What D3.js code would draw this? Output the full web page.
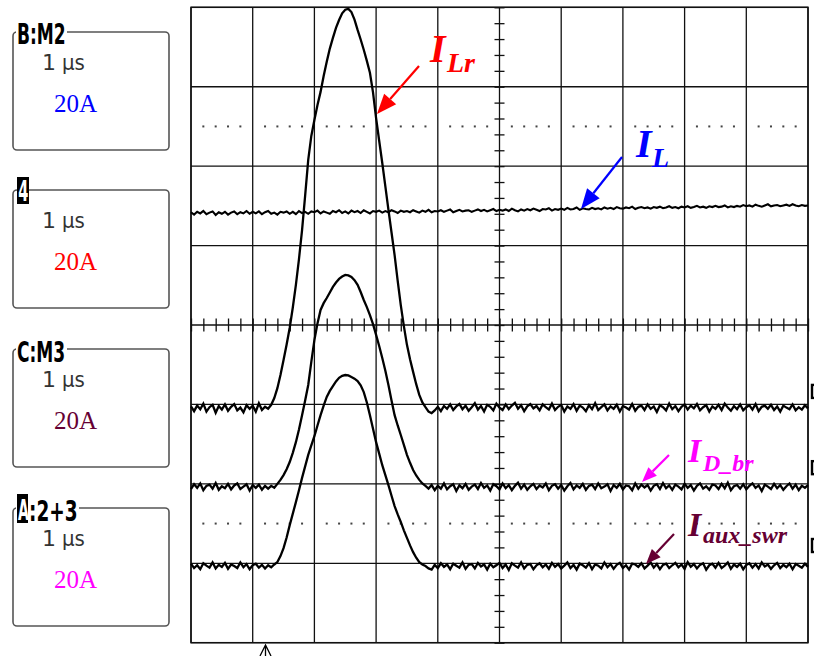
<!DOCTYPE html>
<html>
<head>
<meta charset="utf-8">
<script src="https://cdn.jsdelivr.net/npm/d3@7"></script>
<style>
  html, body { margin: 0; padding: 0; background: #ffffff; }
  svg { display: block; }
</style>
</head>
<body>
<svg id="scope" width="814" height="656"></svg>
<script>
// ---- acquisition settings ----
const sampleStepUs = 0.05;          // time between samples (µs)
const timeDivisions = 10;           // horizontal divisions, 1 µs/div
const voltDivisions = 8;            // vertical divisions
const ampsPerDiv = 20;              // every channel at 20 A/div

// ---- channel read-outs (left column) ----
const panelTitles = ["B:M2", "4", "C:M3", "A:2+3"];
const panelTimebase = ["1 µs", "1 µs", "1 µs", "1 µs"];
const panelScales = ["20A", "20A", "20A", "20A"];
const panelColors = ["#0000ff", "#ff0000", "#660033", "#ff00ff"];

// ---- trace names ----
const traceNames = ["I", "I", "I", "I"];
const traceSubs = ["L", "Lr", "D_br", "aux_swr"];
const traceColors = ["#0000ff", "#ff0000", "#ff00ff", "#660033"];

// trace baseline positions, in divisions from the screen centre
const traceOffsetsDiv = [1.41, -1.045, -2.04, -3.035];
// channel ground markers on the right edge, in divisions
const groundMarkersDiv = [-0.83, -1.79, -2.77];

// ---- sampled currents (A), one value every 0.05 µs from 0 to 10 µs ----
const iL = [
  0.2,-0.4,0.3,-0.1,0.5,-0.3,0.1,0.4,-0.5,0.2,
  -0.2,0.3,-0.4,0.1,0.4,-0.3,0.2,-0.1,0.5,-0.2,
  0.3,-0.1,0.4,-0.3,0.2,0.5,-0.2,0.1,-0.4,0.3,
  0.1,0.4,-0.2,0.3,-0.3,0.5,0.0,0.3,-0.2,0.4,
  0.2,0.6,-0.1,0.4,0.1,-0.2,0.5,0.2,0.7,0.0,
  0.4,-0.1,0.6,0.2,0.5,0.0,0.7,0.3,-0.1,0.5,
  0.3,0.6,0.1,0.5,0.2,0.7,0.4,0.0,0.6,0.3,
  0.5,0.2,0.7,0.4,0.1,0.6,0.3,0.8,0.2,0.5,
  0.4,0.7,0.3,0.6,0.9,0.2,0.5,0.8,0.4,0.6,
  0.7,0.3,0.6,0.9,0.5,0.8,0.4,0.7,1.0,0.5,
  0.8,0.6,0.9,0.5,1.1,0.7,0.4,0.9,0.6,1.0,
  0.7,1.1,0.8,0.5,1.0,0.9,1.2,0.6,1.0,0.8,
  1.1,0.8,1.3,0.9,1.0,1.4,0.8,1.2,1.0,0.9,
  1.3,1.0,1.2,0.9,1.4,1.1,1.3,1.0,1.5,1.2,
  1.1,1.4,1.2,1.6,1.0,1.3,1.5,1.2,1.4,1.1,
  1.5,1.3,1.6,1.2,1.4,1.7,1.3,1.5,1.2,1.6,
  1.4,1.7,1.3,1.5,1.8,1.4,1.6,1.3,1.7,1.5,
  1.8,1.5,1.6,1.9,1.4,1.7,1.5,1.8,1.6,2.0,
  1.7,1.9,1.6,2.1,1.8,1.6,1.9,2.2,1.7,1.9,
  2.0,1.7,1.9,2.1,1.8,2.2,1.9,1.7,2.0,1.8,
  1.9
];

const iLr = [
  0.4,-0.8,0.6,-0.3,1.1,-0.9,0.2,0.8,-1.2,0.5,
  -0.4,0.9,-0.7,0.3,1.0,-0.6,0.1,-1.1,0.7,-0.2,
  0.6,-0.9,1.2,-0.5,0.3,-0.2,
  0.8,2.5,5,8.3,12.1,16,20.2,25.3,31,37.5,
  44.8,53.5,62.5,68.5,72.5,76.3,79.6,83.6,87.2,90.5,
  93.2,95.7,97.7,99.4,100.3,100.5,99.7,97.8,95.2,92.8,
  90.2,87.4,84.4,79.5,73,67.3,61.7,55.8,49.9,44.2,
  38.5,32,25.9,20.6,15.9,12.3,9.1,6,3.3,1.4,
  0.2,
  -0.9,-1.3,-0.6,0.3,-0.8,0.5,-0.2,0.9,-0.5,0.4,
  1.0,-0.3,0.6,-0.7,0.2,1.2,-0.4,0.5,-0.9,0.8,
  0.3,-0.6,1.1,0.1,-0.5,0.9,-0.3,0.6,1.3,-0.2,
  0.7,-0.8,0.4,1.0,-0.1,0.5,-0.6,0.9,0.2,-0.4,
  1.1,-0.5,0.3,0.8,-0.9,0.4,-0.2,1.0,-0.7,0.6,
  0.1,-0.8,0.7,-0.3,1.2,-0.5,0.2,0.9,-0.6,0.4,
  -0.2,0.8,-0.9,0.5,0.1,-0.4,1.0,-0.7,0.3,0.6,
  -0.5,0.9,-0.2,0.4,-1.0,0.7,0.2,-0.6,1.1,-0.3,
  0.5,-0.8,0.3,0.9,-0.4,0.6,-0.1,1.0,-0.6,0.2,
  0.7,-0.9,0.4,-0.2,0.8,-0.5,1.1,0.1,-0.7,0.5,
  -0.3,0.9,-0.6,0.2,0.7,-0.4,1.0,-0.8,0.3,0.6,
  -0.2,0.8,-0.5,0.4,-0.9,0.6,0.1,-0.3,0.9,-0.6,
  0.2,-0.4,0.7,-0.1
];

const iDbr = [
  -0.5,0.7,-0.2,0.9,-0.8,0.3,0.6,-0.4,1.0,-0.7,
  0.2,-0.3,0.8,-0.6,0.4,0.9,-0.5,0.1,0.7,-0.9,
  0.5,-0.2,0.6,-0.7,0.3,-0.4,
  0.3,-0.2,0.8,1.8,3.0,4.5,6.3,8.6,11.3,14.5,
  18.1,21.8,25.7,31.5,37,41.2,44.6,46.3,47.6,49,
  50.4,51.5,52.4,53,53.4,53.3,52.9,52.1,50.9,49.1,
  47.1,45.3,43.3,41,38.3,35.5,32.5,29.3,25.7,21.8,
  18.1,15.5,13.1,10.6,8.1,6.1,4.3,2.9,1.8,0.9,
  0.3,-0.4,
  0.5,-0.8,0.3,-0.4,0.9,-0.6,0.2,0.7,-1.0,0.4,
  -0.3,0.8,-0.7,0.1,0.6,-0.5,1.0,-0.2,0.4,-0.9,
  0.7,0.2,-0.6,0.9,-0.3,0.5,-0.8,0.3,1.1,-0.4,
  0.6,-0.7,0.2,0.8,-0.5,0.4,-0.1,0.9,-0.8,0.3,
  0.7,-0.4,0.5,-0.9,0.2,1.0,-0.6,0.4,-0.2,0.8,
  -0.7,0.3,0.6,-0.5,0.9,-0.3,0.1,0.7,-1.0,0.5,
  -0.2,0.8,-0.6,0.4,0.2,-0.8,0.9,-0.4,0.6,-0.1,
  0.5,-0.9,0.3,0.7,-0.5,1.0,-0.3,0.4,-0.7,0.6,
  0.1,-0.6,0.8,-0.2,0.5,-0.9,0.3,0.9,-0.4,0.2,
  -0.7,0.6,0.4,-0.5,0.8,-0.3,1.1,-0.8,0.2,0.5,
  -0.4,0.7,-0.6,0.3,0.9,-0.2,0.4,-1.0,0.6,0.1,
  -0.5,0.8,-0.3,0.5,-0.7,0.2,0.9,-0.4,0.6,-0.8,
  0.3,-0.2,0.5
];

const iAuxSwr = [
  0.6,-0.5,0.2,-0.8,0.7,0.1,-0.4,0.9,-0.6,0.3,
  -0.2,0.8,-0.7,0.4,0.0,-0.5,0.9,-0.3,0.5,-0.8,
  0.2,0.6,-0.4,0.3,-0.6,0.2,
  -0.3,0.4,1,2.5,4.5,7.2,10.3,13.2,16.1,19.1,
  22.2,25.1,28,30.4,32.7,35.4,38,40.4,42.6,44.1,
  45.3,46.5,47.4,47.9,48.1,48,47.6,47.2,46.6,45.5,
  43.8,41.2,38,34.6,31.2,28.3,25.4,22.9,20.4,17.7,
  15.1,13,11.1,9,7.1,5.2,3.5,2.1,1,0.4,
  0,
  -0.6,-0.9,0.3,-0.5,0.7,-0.2,0.4,-0.8,0.6,0.1,
  -0.4,0.9,-0.7,0.3,0.5,-0.6,0.8,-0.1,0.4,-0.9,
  0.6,-0.3,0.2,0.8,-0.5,0.4,-1.0,0.7,0.1,-0.4,
  0.9,-0.6,0.3,0.5,-0.8,0.2,0.7,-0.3,0.4,-0.7,
  0.8,-0.2,0.5,-0.6,0.1,0.9,-0.5,0.3,-0.9,0.6,
  0.2,-0.4,0.7,-0.8,0.4,0.1,-0.6,0.9,-0.3,0.5,
  -0.7,0.3,0.8,-0.5,0.2,-0.9,0.6,0.4,-0.2,0.7,
  -0.6,0.1,0.9,-0.4,0.5,-0.8,0.3,0.6,-0.5,0.2,
  0.8,-0.3,0.4,-0.7,1.0,-0.2,0.5,-0.6,0.3,0.7,
  -0.9,0.2,0.6,-0.4,0.8,-0.5,0.1,0.9,-0.7,0.4,
  -0.2,0.6,-0.8,0.3,0.7,-0.4,0.5,-0.6,0.9,-0.1,
  0.4,-0.7,0.2,0.8,-0.5,0.3,-0.3,0.6,-0.8,0.5,
  0.1,-0.4,0.6,-0.2
];

const traces = [iL, iLr, iDbr, iAuxSwr];

// ---- drawing ----
const svg = d3.select("#scope");
const screen = { left: 191, right: 808, top: 7.3, bottom: 642.7 };

const x = d3.scaleLinear().domain([0, timeDivisions]).range([screen.left, screen.right]);
const y = d3.scaleLinear().domain([-voltDivisions / 2, voltDivisions / 2]).range([screen.bottom, screen.top]);

const grid = svg.append("g");

// major graticule
grid.selectAll("line.v").data(d3.range(0, timeDivisions + 1)).join("line")
  .attr("x1", d => x(d)).attr("x2", d => x(d))
  .attr("y1", screen.top).attr("y2", screen.bottom)
  .attr("stroke", "#111").attr("stroke-width", 1.3);
grid.selectAll("line.h").data(d3.range(-voltDivisions / 2, voltDivisions / 2 + 1)).join("line")
  .attr("x1", screen.left).attr("x2", screen.right)
  .attr("y1", d => y(d)).attr("y2", d => y(d))
  .attr("stroke", "#111").attr("stroke-width", 1.3);

// minor tick positions (5 per division)
const minorX = d3.range(0, timeDivisions * 5 + 1).map(k => k / 5);
const minorY = d3.range(0, voltDivisions * 5 + 1).map(k => -voltDivisions / 2 + k / 5);

// dotted half-division reference lines at ±2.5 div
[2.5, -2.5].forEach(level => {
  grid.append("g").selectAll("rect")
    .data(minorX.filter(t => Math.abs(t - Math.round(t)) > 1e-6))
    .join("rect")
    .attr("x", t => x(t) - 1).attr("y", y(level) - 1)
    .attr("width", 2).attr("height", 2)
    .attr("fill", "#444");
});

// centre horizontal axis with minor ticks
const xAxisG = grid.append("g")
  .attr("transform", `translate(0,${y(0) - 6.5})`)
  .call(d3.axisBottom(x).tickValues(minorX).tickSize(13).tickFormat(""));
xAxisG.select(".domain").remove();
xAxisG.selectAll("line").attr("stroke", "#111").attr("stroke-width", 1.3);

// centre vertical axis with minor ticks
const yAxisG = grid.append("g")
  .attr("transform", `translate(${x(timeDivisions / 2) - 5},0)`)
  .call(d3.axisRight(y).tickValues(minorY).tickSize(10).tickFormat(""));
yAxisG.select(".domain").remove();
yAxisG.selectAll("line").attr("stroke", "#111").attr("stroke-width", 1.3);

// screen border
grid.append("rect")
  .attr("x", screen.left).attr("y", screen.top)
  .attr("width", screen.right - screen.left).attr("height", screen.bottom - screen.top)
  .attr("fill", "none").attr("stroke", "#111").attr("stroke-width", 1.5);

// waveforms
const traceG = svg.append("g");
traces.forEach((vals, k) => {
  const line = d3.line()
    .x((d, i) => x(i * sampleStepUs))
    .y(d => y(traceOffsetsDiv[k] + d / ampsPerDiv));
  traceG.append("path")
    .datum(vals)
    .attr("d", line)
    .attr("fill", "none")
    .attr("stroke", "#000")
    .attr("stroke-width", k === 0 ? 2.1 : 2.3)
    .attr("stroke-linejoin", "miter");
});

// ground markers, clipped by the right edge
svg.selectAll("rect.gnd").data(groundMarkersDiv).join("rect")
  .attr("x", 812).attr("y", d => y(d) - 6)
  .attr("width", 8).attr("height", 13)
  .attr("fill", "#fff").attr("stroke", "#000").attr("stroke-width", 2.4);

// trigger position marker
svg.append("path")
  .attr("d", "M260,656 L265.5,645 L271,656 M265.5,645 V656")
  .attr("fill", "none").attr("stroke", "#000").attr("stroke-width", 1.3);

// ---- left read-out panels ----
const panelTops = [32, 190, 349, 508];
const panelG = svg.append("g");
panelTops.forEach((top, k) => {
  panelG.append("rect")
    .attr("x", 13).attr("y", top).attr("width", 156).attr("height", 118)
    .attr("rx", 4).attr("fill", "none").attr("stroke", "#555").attr("stroke-width", 1.6);

  panelG.append("text")
    .attr("x", 42).attr("y", top + 38)
    .attr("font-family", "DejaVu Sans").attr("font-size", 22)
    .attr("fill", "#333")
    .text(panelTimebase[k].split(" ")[0]);
  panelG.append("text")
    .attr("transform", `translate(62,${top + 38}) scale(0.9,1)`)
    .attr("font-family", "DejaVu Sans").attr("font-size", 22)
    .attr("fill", "#333")
    .text(panelTimebase[k].split(" ")[1]);

  panelG.append("text")
    .attr("x", 54).attr("y", top + 80)
    .attr("font-family", "Liberation Serif, Times New Roman, serif").attr("font-size", 25)
    .attr("fill", panelColors[k])
    .text(panelScales[k]);
});

function headerText(str, tx, ty, sx, fill) {
  panelG.append("text")
    .attr("transform", `translate(${tx},${ty}) scale(${sx},1)`)
    .attr("font-family", "DejaVu Sans").attr("font-weight", "bold").attr("font-size", 28)
    .attr("fill", fill).text(str);
}
// panel 1
panelG.append("rect").attr("x", 16).attr("y", 28).attr("width", 51).attr("height", 8).attr("fill", "#fff");
headerText(panelTitles[0], 17, 44, 0.61, "#000");
// panel 2: inverted channel number
panelG.append("rect").attr("x", 17).attr("y", 177).attr("width", 12).attr("height", 27).attr("fill", "#000");
headerText(panelTitles[1], 18.3, 201, 0.52, "#fff");
// panel 3
panelG.append("rect").attr("x", 16).attr("y", 345).attr("width", 51).attr("height", 8).attr("fill", "#fff");
headerText(panelTitles[2], 17, 362, 0.61, "#000");
// panel 4: inverted letter followed by the math expression
panelG.append("rect").attr("x", 16).attr("y", 504).attr("width", 63).attr("height", 8).attr("fill", "#fff");
panelG.append("rect").attr("x", 17).attr("y", 494).attr("width", 11).attr("height", 29).attr("fill", "#000");
headerText(panelTitles[3].slice(0, 1), 18, 520, 0.5, "#fff");
headerText(panelTitles[3].slice(1), 29, 521, 0.66, "#000");

// ---- trace annotations ----
const annotations = [
  { k: 0, ix: 636, iy: 157, isz: 40, sx: 652, sy: 167, ssz: 28, from: [622, 157], to: [581, 209], head: 20, hw: 8 },
  { k: 1, ix: 430, iy: 62, isz: 40, sx: 447, sy: 72, ssz: 28, from: [419, 66], to: [377, 114], head: 20, hw: 8 },
  { k: 2, ix: 688, iy: 462, isz: 34, sx: 703, sy: 471, ssz: 24, from: [669, 455], to: [642, 482], head: 15, hw: 6 },
  { k: 3, ix: 688, iy: 536, isz: 34, sx: 703, sy: 543, ssz: 24, from: [674, 534], to: [646, 564], head: 15, hw: 6 }
];
const annG = svg.append("g");
annotations.forEach(a => {
  const c = traceColors[a.k];
  annG.append("text")
    .attr("x", a.ix).attr("y", a.iy)
    .attr("font-family", "Liberation Serif, Times New Roman, serif")
    .attr("font-weight", "bold").attr("font-style", "italic")
    .attr("font-size", a.isz).attr("fill", c).text(traceNames[a.k]);
  annG.append("text")
    .attr("x", a.sx).attr("y", a.sy)
    .attr("font-family", "Liberation Serif, Times New Roman, serif")
    .attr("font-weight", "bold").attr("font-style", "italic")
    .attr("font-size", a.ssz).attr("fill", c).text(traceSubs[a.k]);

  const [x0, y0] = a.from, [x1, y1] = a.to;
  const dx = x1 - x0, dy = y1 - y0, len = Math.hypot(dx, dy);
  const ux = dx / len, uy = dy / len;
  const bx = x1 - ux * a.head, by = y1 - uy * a.head;
  annG.append("line")
    .attr("x1", x0).attr("y1", y0).attr("x2", bx).attr("y2", by)
    .attr("stroke", c).attr("stroke-width", 2.2);
  annG.append("path")
    .attr("d", `M${x1},${y1} L${bx - uy * a.hw},${by + ux * a.hw} L${bx + uy * a.hw},${by - ux * a.hw} Z`)
    .attr("fill", c);
});
</script>
</body>
</html>
